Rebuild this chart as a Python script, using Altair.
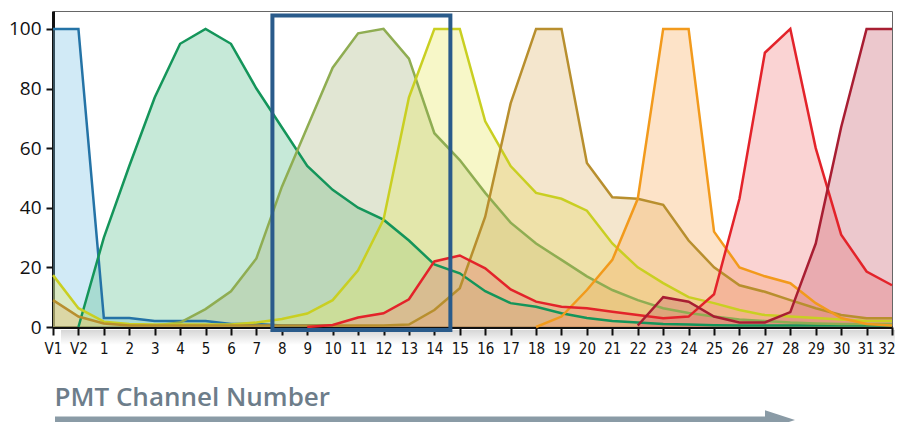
import altair as alt
import pandas as pd

# ---- data -------------------------------------------------------------
labels = ["V1", "V2"] + [str(i) for i in range(1, 33)]

series_names = ["blue", "green", "olive", "yellow", "tan", "orange", "red", "darkred"]

blue = [100, 100, 3, 3, 2, 2, 2, 1, 1, 0.5, 0.5, 0.5] + [None] * 22
green = [None, 0, 30, 54, 77, 95, 100, 95, 80, 67, 54, 46, 40, 36, 29, 21, 18, 12,
         8, 6.8, 4.6, 3, 2, 1.5, 1, 0.8, 0.6, 0.5, 0.5, 0.5, 0.5, 0.5, 0.5, 0.5]
olive = [None, None, None, None, 0.5, 1.5, 6, 12, 23, 47, 67, 87, 98.5, 100, 90, 65,
         56, 45, 35, 28, 22.5, 17, 12.4, 9, 6.3, 4.7, 3.5, 2.5, 2, 1.5, 1.2, 1, 1, 1]
yellow = [17.4, 6.3, 1.8, 1, 0.8, 0.8, 0.8, 0.8, 1.5, 2.7, 4.5, 9, 19, 36, 77, 100,
          100, 69, 54, 45, 43, 39, 28, 20, 14.7, 10, 8, 5.7, 4, 3.5, 3, 2.5, 2, 2]
tan = [9, 3.5, 1.2] + [0.5] * 11 + [0.8, 5.7, 13, 37, 75, 100, 100, 55, 43.5, 43, 41,
                                    29, 20, 14, 11.8, 9, 6.3, 4, 2.9, 2.9]
orange = [None] * 19 + [0, 3.5, 12.4, 22.5, 43, 100, 100, 32, 20, 17, 14.7, 8, 3, 1, 0.5]
red = [None] * 10 + [0, 0.7, 3.2, 4.6, 9.3, 22, 24, 19.7, 12.6, 8.5, 6.8, 6.3, 5.1, 4,
                     2.9, 3.5, 11, 43, 92, 100, 60, 31, 18.6, 14]
darkred = [None] * 23 + [0.5, 10, 8.5, 3.5, 1.5, 1.5, 5, 28, 67, 100, 100]

series_values = [blue, green, olive, yellow, tan, orange, red, darkred]

line_colors = ["#2473a6", "#14955a", "#8fad52", "#c9cf22", "#b88f2e",
               "#f29a1c", "#e3232a", "#a81e32"]
fill_colors = ["#7cc4e4", "#5cc08f", "#a8b880", "#e8e860", "#e0b870",
               "#f8b060", "#f08080", "#c86070"]

# highlight box (x in category-index units, y in value units)
box_x = [8.63, 15.63]
box_y = [-1, 104.5]

y_ticks = [0, 20, 40, 60, 80, 100]

# ---- tables -----------------------------------------------------------
rows = []
for k, (name, vals) in enumerate(zip(series_names, series_values)):
    for i, v in enumerate(vals):
        if v is not None:
            rows.append({"series": name, "order": k, "idx": i, "value": v})
df = pd.DataFrame(rows)

box_df = pd.DataFrame({"idx": [box_x[0]], "x1": [box_x[1]],
                       "value": [box_y[0]], "y1": [box_y[1]]})

last = len(labels) - 1
label_expr = "[" + ",".join("'%s'" % l for l in labels) + "][datum.value]"

x_axis = alt.Axis(
    values=list(range(len(labels))),
    labelExpr=label_expr,
    labelFont="Liberation Sans Narrow, DejaVu Sans Condensed, sans-serif",
    labelFontSize=15,
    labelColor="#111",
    labelPadding=6,
    labelOverlap=False,
    labelFlush=False,
    labelAlign={"expr": "datum.value == %d ? 'right' : 'center'" % last},
    labelOffset={"expr": "datum.value == %d ? 3 : (datum.value == %d ? -1 : 0)" % (last, last - 1)},
    tickColor="#111",
    tickWidth=2,
    tickSize=8,
    domainColor="#111",
    domainWidth=3,
    grid=False,
    title="PMT Channel Number",
    titleFont="Open Sans",
    titleFontSize=26,
    titleFontWeight=600,
    titleColor="#6d7d8a",
    titleAnchor="start",
    titleAlign="left",
    titleBaseline="alphabetic",
    titleX=1,
    titleY=78,
)
y_axis = alt.Axis(
    values=y_ticks,
    labelFont="Open Sans",
    labelFontSize=19,
    labelColor="#111",
    labelPadding=5,
    tickColor="#111",
    tickWidth=2,
    tickSize=7,
    domainColor="#111",
    domainWidth=3,
    grid=False,
    title=None,
)

x_scale = alt.Scale(domain=[0, last], nice=False, zero=False)
y_scale = alt.Scale(domain=[0, 106], nice=False)

X = alt.X("idx:Q", scale=x_scale, axis=x_axis)
Y = alt.Y("value:Q", scale=y_scale, axis=y_axis, stack=None)

base = alt.Chart(df)

areas = base.mark_area(fillOpacity=0.35, interpolate="linear").encode(
    x=X,
    y=Y,
    color=alt.Color("series:N", scale=alt.Scale(domain=series_names, range=fill_colors),
                    legend=None),
    order=alt.Order("order:Q"),
)

lines = base.mark_line(strokeWidth=2.5, strokeJoin="miter").encode(
    x=X,
    y=Y,
    color=alt.Color("series:N", scale=alt.Scale(domain=series_names, range=line_colors),
                    legend=None),
    order=alt.Order("order:Q"),
)

box = alt.Chart(box_df).mark_rect(filled=False, stroke="#2a5b8b", strokeWidth=4).encode(
    x=X,
    x2="x1:Q",
    y=Y,
    y2="y1:Q",
)

shadow = alt.Chart(box_df).mark_rect(
    color=alt.Gradient(
        gradient="linear",
        stops=[alt.GradientStop(color="rgba(0,0,0,0.16)", offset=0),
               alt.GradientStop(color="rgba(0,0,0,0)", offset=1)],
        x1=0, x2=0, y1=0, y2=1,
    )
).encode(x=alt.value(8), x2=alt.value(842), y=alt.value(319), y2=alt.value(334))

shaft = alt.Chart(box_df).mark_rule(color="#8a9ba6", strokeWidth=7).encode(
    x=alt.value(2), x2=alt.value(716), y=alt.value(409)
)
head = alt.Chart(box_df).mark_point(
    shape="M-1,-0.65L1,0L-1,0.65Z", filled=True, color="#8a9ba6", opacity=1, size=900
).encode(x=alt.value(727), y=alt.value(409))

chart = alt.layer(shadow, areas, lines, box, shaft, head).resolve_scale(
    color="independent"
).properties(
    width=839,
    height=316,
    autosize=alt.AutoSizeParams(type="none"),
    padding={"left": 45, "top": 3, "right": 3, "bottom": 95},
).configure_view(
    stroke="#666", strokeWidth=1
)

chart.save("out.html", embed_options={"renderer": "svg", "actions": False})
